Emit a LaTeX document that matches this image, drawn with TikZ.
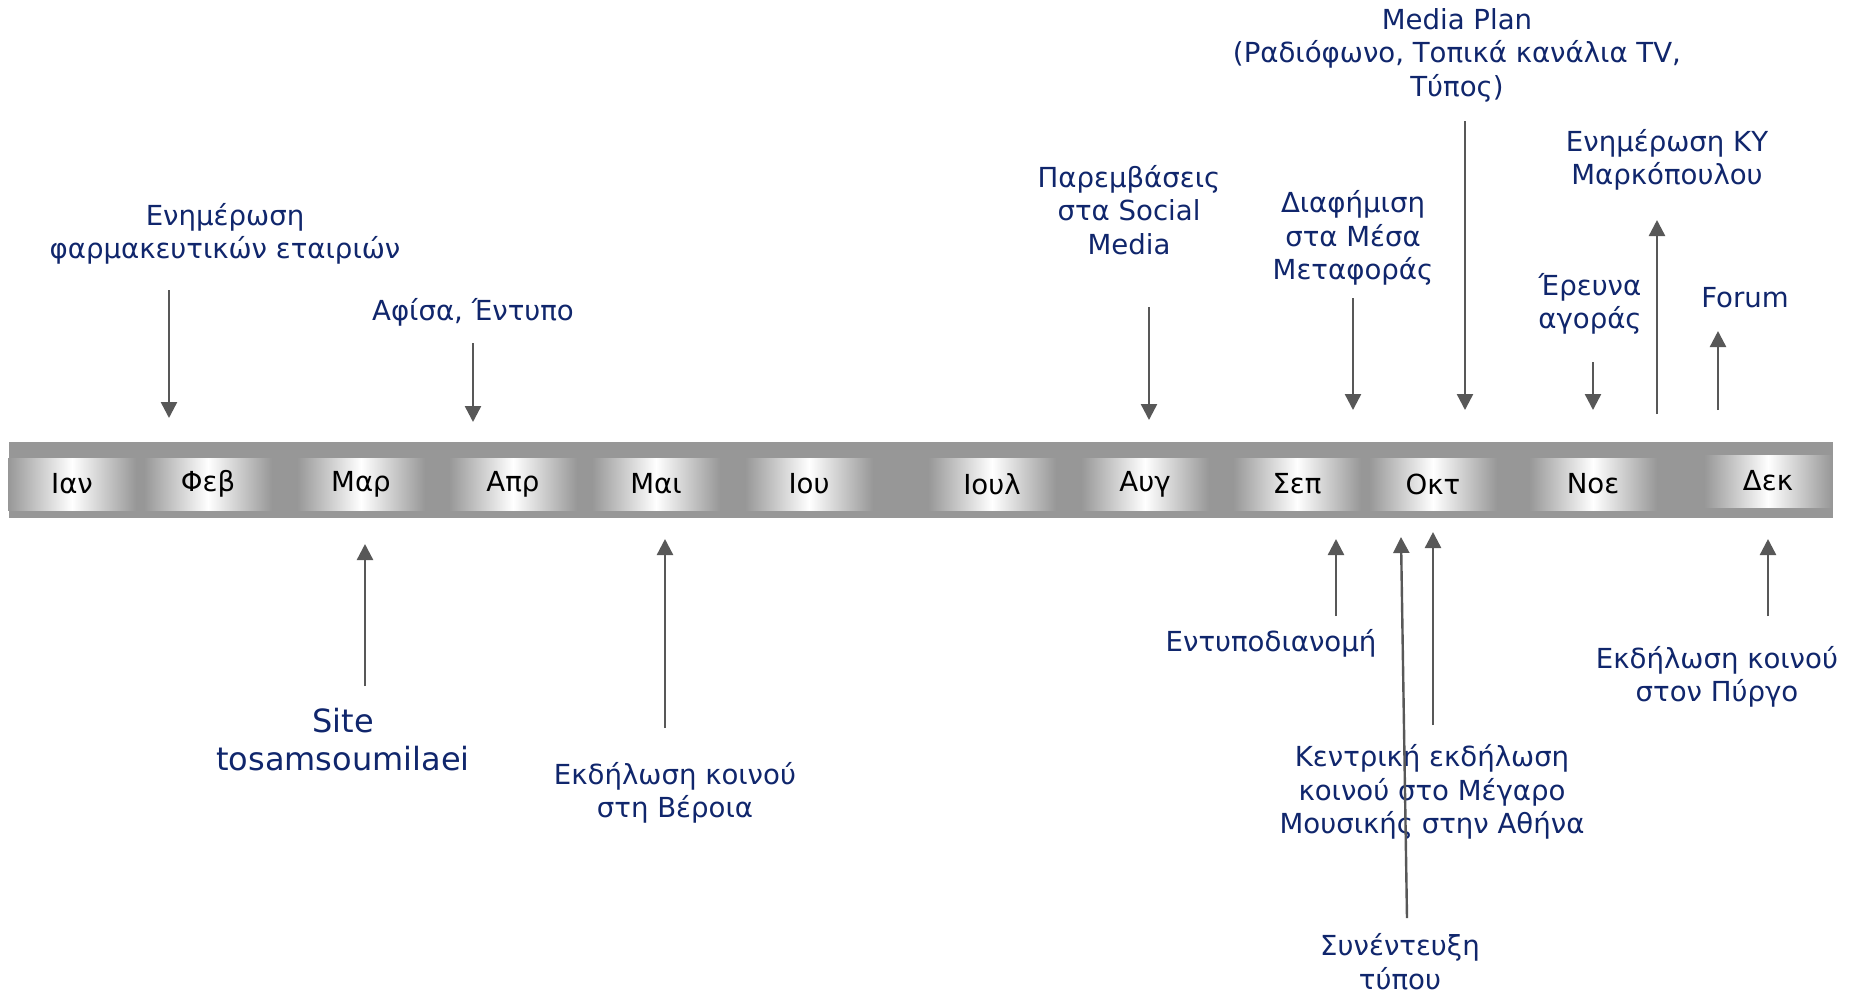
\documentclass[tikz,border=0pt]{standalone}
\usepackage{fontspec}
\setmainfont{DejaVu Sans}
\usepackage{tikz}
\usetikzlibrary{arrows.meta, positioning}
\definecolor{navy}{RGB}{16,38,108}
\definecolor{bargray}{RGB}{151,151,151}
\definecolor{arrgray}{RGB}{88,88,88}
\tikzset{>={Triangle[width=8pt,length=8pt]}}
\tikzset{
  lbl/.style={text=navy, align=center, inner sep=0pt, font=\fontsize{13.8}{16.8}\selectfont},
  biglbl/.style={lbl, font=\fontsize{16}{19}\selectfont},
  month/.style={minimum width=64pt, minimum height=26pt, inner sep=0pt,
    left color=bargray, right color=bargray, middle color=white,
    font=\fontsize{13.8}{16}\selectfont},
  ev/.style={->, arrgray, line width=1.2pt}
}

\begin{document}
\begin{tikzpicture}[x=0.5pt,y=-0.5pt]
        \useasboundingbox (0,0) rectangle (1854,993);
        % the year bar
        \fill[bargray] (9,442) rectangle (1833,518);
        \foreach \x/\m/\n in {72/ian/Ιαν, 208/feb/Φεβ, 361/mar/Μαρ, 513/apr/Απρ,
            656/mai/Μαι, 809/iou/Ιου, 992/ioul/Ιουλ, 1145/aug/Αυγ,
            1297/sep/Σεπ, 1433/okt/Οκτ, 1593/noe/Νοε}
          \node[month] (\m) at (\x,484) {\n};
        \node[month] (dek) at (1768,481) {Δεκ};

        % above the bar
        \node[lbl] (pharma) at (225,234) {Ενημέρωση\\φαρμακευτικών εταιριών};
        \node[lbl] (afisa) at (473,312) {Αφίσα, Έντυπο};
        \node[lbl] (social) at (1129,210) {Παρεμβάσεις\\στα Social\\Media};
        \node[lbl] (metafora) at (1353,238) {Διαφήμιση\\στα Μέσα\\Μεταφοράς};
        \node[lbl] (mediaplan) at (1457,55) {Media Plan\\(Ραδιόφωνο, Τοπικά κανάλια TV,\\Τύπος)};
        \node[lbl] (ky) at (1667,160) {Ενημέρωση ΚΥ\\Μαρκόπουλου};
        \node[lbl] (erevna) at (1590,304) {Έρευνα\\αγοράς};
        \node[lbl] (forum) at (1745,298) {Forum};

        % below the bar
        \node[biglbl] (site) at (343,740) {Site\\tosamsoumilaei};
        \node[lbl] (veroia) at (675,793) {Εκδήλωση κοινού\\στη Βέροια};
        \node[lbl] (entypo) at (1271,643) {Εντυποδιανομή};
        \node[lbl] (megaro) at (1432,792) {Κεντρική εκδήλωση\\κοινού στο Μέγαρο\\Μουσικής στην Αθήνα};
        \node[lbl] (synent) at (1400,962) {Συνέντευξη\\τύπου};
        \node[lbl] (pyrgos) at (1717,677) {Εκδήλωση κοινού\\στον Πύργο};

        % arrow ends
        \coordinate (pharmaA) at (169,290);  \coordinate (pharmaB) at (169,418);
        \coordinate (afisaA) at (473,343);   \coordinate (afisaB) at (473,422);
        \coordinate (socialA) at (1149,307); \coordinate (socialB) at (1149,420);
        \coordinate (metaforaA) at (1353,298); \coordinate (metaforaB) at (1353,410);
        \coordinate (mediaA) at (1465,121);  \coordinate (mediaB) at (1465,410);
        \coordinate (erevnaA) at (1593,362); \coordinate (erevnaB) at (1593,410);
        \coordinate (kyA) at (1657,414);     \coordinate (kyB) at (1657,220);
        \coordinate (forumA) at (1718,410);  \coordinate (forumB) at (1718,331);
        \coordinate (siteA) at (365,686);    \coordinate (siteB) at (365,544);
        \coordinate (veroiaA) at (665,728);  \coordinate (veroiaB) at (665,539);
        \coordinate (entypoA) at (1336,616); \coordinate (entypoB) at (1336,539);
        \coordinate (megaroA) at (1433,725); \coordinate (megaroB) at (1433,532);
        \coordinate (synentA) at (1407,918); \coordinate (synentB) at (1401,537);
        \coordinate (pyrgosA) at (1768,616); \coordinate (pyrgosB) at (1768,539);

        \foreach \e in {pharma, afisa, social, metafora, erevna, ky, forum,
            site, veroia, entypo, megaro, synent, pyrgos}
          \draw[ev] (\e A) -- (\e B);
        \draw[ev] (mediaA) -- (mediaB);
\end{tikzpicture}
\end{document}
